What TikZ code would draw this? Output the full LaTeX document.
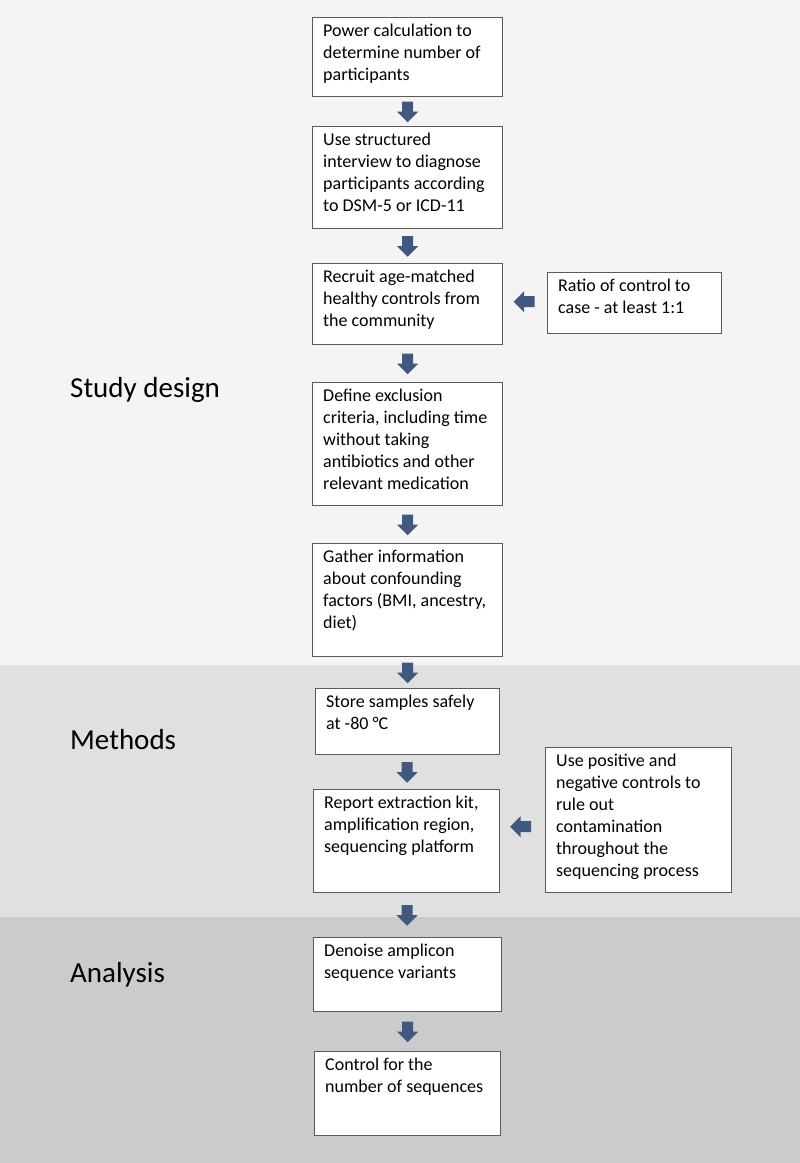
\documentclass[tikz,border=0pt]{standalone}
\usepackage{fontspec}
\setmainfont{Carlito}
\usetikzlibrary{calc}
\definecolor{bandA}{HTML}{F4F4F4}
\definecolor{bandB}{HTML}{E0E0E0}
\definecolor{bandC}{HTML}{CBCBCB}
\definecolor{arrowblue}{HTML}{41587F}
\definecolor{boxline}{HTML}{5A5A5A}
\tikzset{
  box/.style={draw=boxline, line width=1.3pt, fill=white, inner sep=0pt, anchor=north west},
  txt/.style={inner sep=0pt, anchor=north west, align=left,
    font=\fontsize{18}{22}\selectfont, execute at begin node={\rule{0pt}{14pt}}},
  sect/.style={inner sep=0pt, anchor=west, font=\fontsize{29}{34}\selectfont},
  downarr/.pic={\fill[arrowblue] (-5.5,-10) -- (5.5,-10) -- (5.5,0) -- (10.5,0) -- (0,10.5)
      -- (-10.5,0) -- (-5.5,0) -- cycle;},
  leftarr/.pic={\fill[arrowblue] (10.5,-5.5) -- (10.5,5.5) -- (0,5.5) -- (0,10.5) -- (-10.5,0)
      -- (0,-10.5) -- (0,-5.5) -- cycle;}
}
\begin{document}
\begin{tikzpicture}[x=1pt,y=-1pt]
\useasboundingbox (0,0) rectangle (800,1163);
% bands
\fill[bandA] (0,0) rectangle (800,665);
\fill[bandB] (0,665) rectangle (800,917);
\fill[bandC] (0,917) rectangle (800,1163);
% section labels
\node[sect] (sd) at (70,390) {Study design};
\node[sect] (me) at (70,740) {Methods};
\node[sect] (an) at (70,975) {Analysis};
% boxes
\node[box, minimum width=190pt, minimum height=79pt] (b1) at (312,17) {};
\node[box, minimum width=190pt, minimum height=102pt] (b2) at (312,126) {};
\node[box, minimum width=190pt, minimum height=81pt] (b3) at (312,263) {};
\node[box, minimum width=174pt, minimum height=61pt] (r1) at (547,272) {};
\node[box, minimum width=190pt, minimum height=123pt] (b4) at (312,382) {};
\node[box, minimum width=190pt, minimum height=113pt] (b5) at (312,543) {};
\node[box, minimum width=184pt, minimum height=66pt] (b6) at (315,688) {};
\node[box, minimum width=186pt, minimum height=103pt] (b7) at (313,789) {};
\node[box, minimum width=186pt, minimum height=145pt] (r2) at (545,747) {};
\node[box, minimum width=188pt, minimum height=74pt] (b8) at (313,937) {};
\node[box, minimum width=186pt, minimum height=84pt] (b9) at (314,1051) {};
% texts
\node[txt] (t1) at ($(b1.north west)+(11,7)$) {Power calculation to\\determine number of\\participants};
\node[txt] (t2) at ($(b2.north west)+(11,7)$) {Use structured\\interview to diagnose\\participants according\\to DSM-5 or ICD-11};
\node[txt] (t3) at ($(b3.north west)+(11,7)$) {Recruit age-matched\\healthy controls from\\the community};
\node[txt] (tr1) at ($(r1.north west)+(11,7)$) {Ratio of control to\\case - at least 1:1};
\node[txt] (t4) at ($(b4.north west)+(11,7)$) {Define exclusion\\criteria, including time\\without taking\\antibiotics and other\\relevant medication};
\node[txt] (t5) at ($(b5.north west)+(11,7)$) {Gather information\\about confounding\\factors (BMI, ancestry,\\diet)};
\node[txt] (t6) at ($(b6.north west)+(11,7)$) {Store samples safely\\at -80 °C};
\node[txt] (t7) at ($(b7.north west)+(11,7)$) {Report extraction kit,\\amplification region,\\sequencing platform};
\node[txt] (tr2) at ($(r2.north west)+(11,7)$) {Use positive and\\negative controls to\\rule out\\contamination\\throughout the\\sequencing process};
\node[txt] (t8) at ($(b8.north west)+(11,7)$) {Denoise amplicon\\sequence variants};
\node[txt] (t9) at ($(b9.north west)+(11,7)$) {Control for the\\number of sequences};
% arrow positions
\coordinate (a12) at ($(b1.south)!0.5!(b2.north)$);
\coordinate (a23) at ($(b2.south)!0.5!(b3.north)$);
\coordinate (a34) at ($(b3.south)!0.5!(b4.north)$);
\coordinate (a45) at ($(b4.south)!0.5!(b5.north)$);
\coordinate (a56) at ($(b5.south)!0.5!(b6.north)$);
\coordinate (a67) at ($(b6.south)!0.5!(b7.north)$);
\coordinate (a78) at ($(b7.south)!0.5!(b8.north)$);
\coordinate (a89) at ($(b8.south)!0.5!(b9.north)$);
\coordinate (ar1) at ($(b3.east)!0.5!(r1.west)+(-1,-2)$);
\coordinate (ar2) at ($($(b7.east)!0.5!(r2.west)$ |- b7.east)+(-2,-4)$);
% arrows
\foreach \c in {a12,a23,a34,a45,a56,a67,a78,a89} { \pic at (\c) {downarr}; }
\pic at (ar1) {leftarr};
\pic at (ar2) {leftarr};
\end{tikzpicture}
\end{document}
